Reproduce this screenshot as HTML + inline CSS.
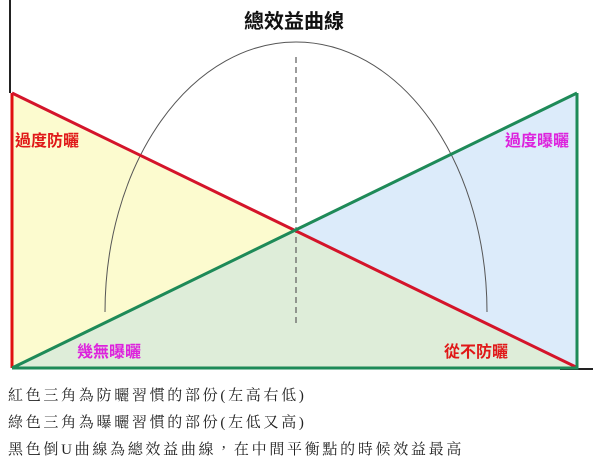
<!DOCTYPE html>
<html><head><meta charset="utf-8"><style>
body{margin:0;width:600px;height:469px;background:#fff;overflow:hidden;position:relative}
.t{position:absolute;font-family:"Liberation Serif","Noto Serif CJK TC","Noto Serif CJK SC",serif;font-size:15px;letter-spacing:2.7px;color:#222;left:8px;white-space:nowrap}
</style></head><body>
<svg width="600" height="469" style="position:absolute;left:0;top:0">
<polygon points="12,93 12,368 578,368" fill="#fcfbcf"/>
<polygon points="12,368 577,93 577,368" fill="#dcebfa"/>
<polygon points="12,368 294,230 577,368" fill="#deedd9"/>
<line x1="10" y1="0" x2="10" y2="93" stroke="#222" stroke-width="2"/>
<line x1="560" y1="369" x2="593" y2="369" stroke="#222" stroke-width="2"/>
<path d="M105,312 A191,270 0 0 1 487,312" fill="none" stroke="#555" stroke-width="1"/>
<line x1="296" y1="57" x2="296" y2="325" stroke="#666" stroke-width="1.3" stroke-dasharray="6,4"/>
<polyline points="12,93 12,368" fill="none" stroke="#e01010" stroke-width="3"/>
<line x1="12" y1="93" x2="578" y2="368" stroke="#d4142a" stroke-width="3"/>
<line x1="12" y1="368" x2="577" y2="93" stroke="#1e8a58" stroke-width="3"/>
<polyline points="577,93 577,368 12,368" fill="none" stroke="#1e8a58" stroke-width="3"/>
<text x="294" y="28" text-anchor="middle" font-family="Liberation Sans,Noto Sans CJK TC,sans-serif" font-size="20" font-weight="bold" fill="#111">總效益曲線</text>
<g font-family="Liberation Sans,Noto Sans CJK TC,sans-serif" font-size="16" font-weight="bold">
<text x="15" y="146" fill="#e01818">過度防曬</text>
<text x="505" y="146" fill="#dd22dd">過度曝曬</text>
<text x="77" y="357" fill="#dd22dd">幾無曝曬</text>
<text x="444" y="357" fill="#e01818">從不防曬</text>
</g>
</svg>
<div class="t" style="top:384px">紅色三角為防曬習慣的部份(左高右低)</div>
<div class="t" style="top:411px">綠色三角為曝曬習慣的部份(左低又高)</div>
<div class="t" style="top:438px">黑色倒U曲線為總效益曲線，在中間平衡點的時候效益最高</div>
</body></html>
